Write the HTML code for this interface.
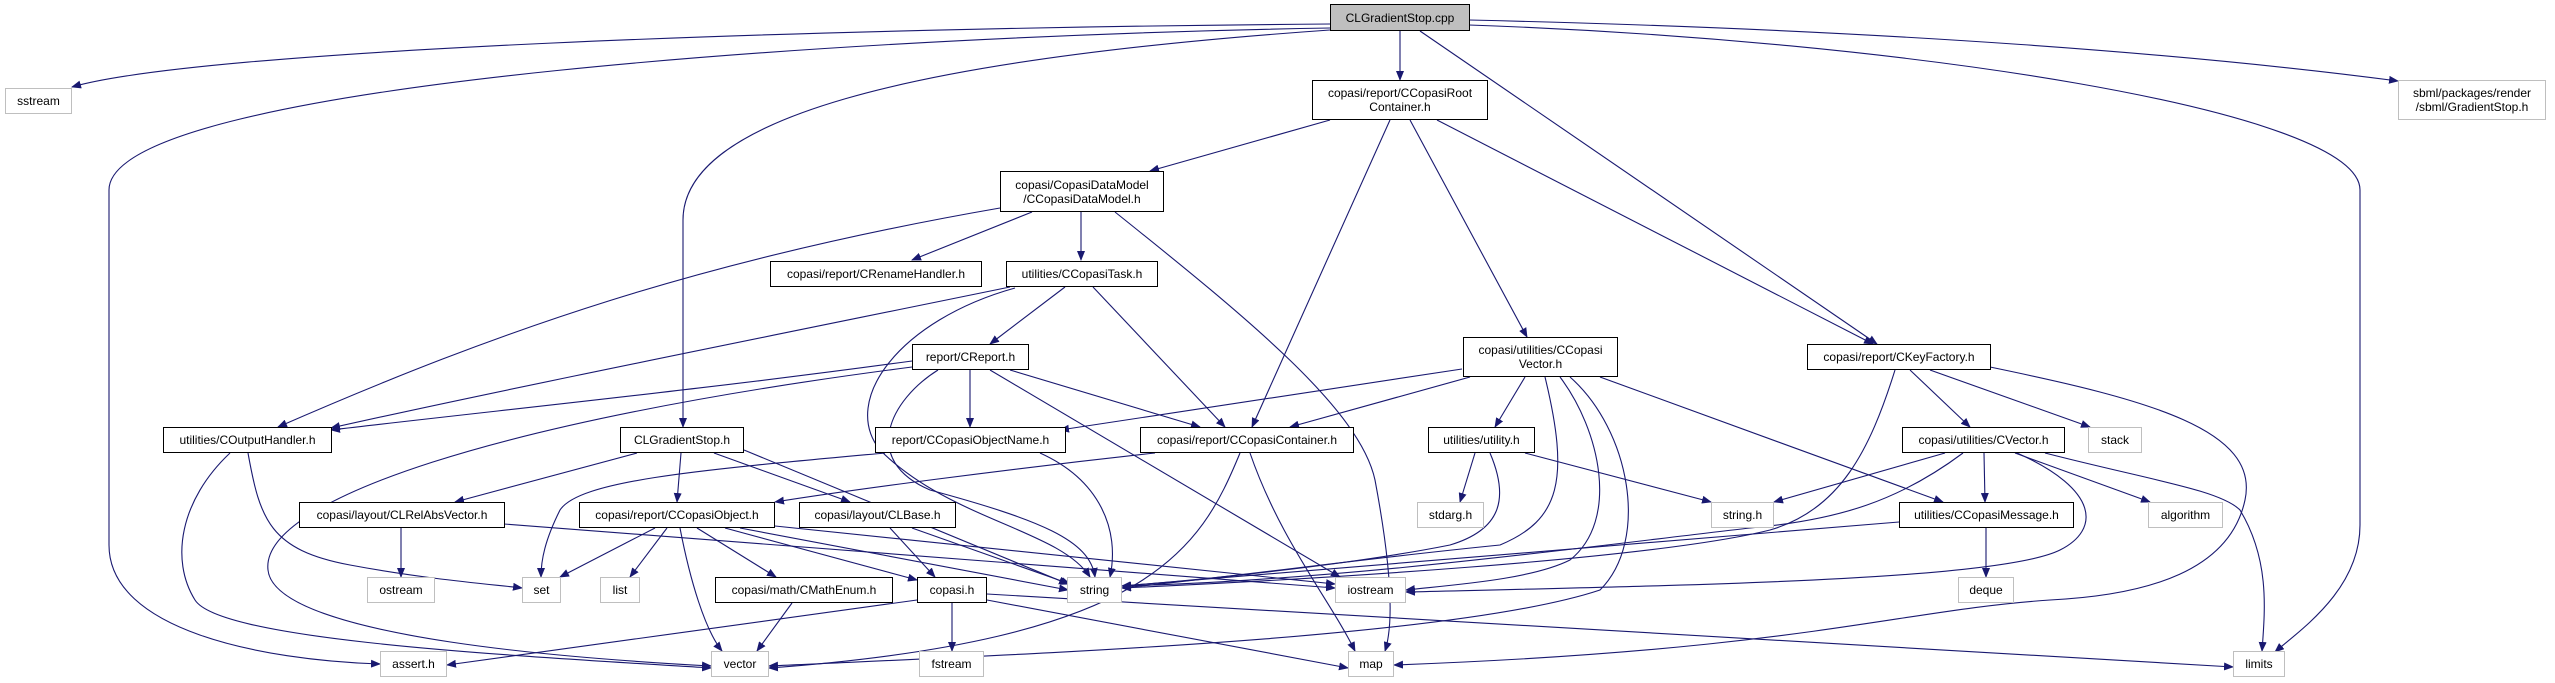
<!DOCTYPE html>
<html><head><meta charset="utf-8"><style>
html,body{margin:0;padding:0;background:#fff;}
#c{position:relative;width:2555px;height:683px;overflow:hidden;font-family:"Liberation Sans",Arial,sans-serif;}
.b{position:absolute;box-sizing:border-box;border:1.3px solid #000;background:#fff;font-size:12px;color:#000;display:flex;align-items:center;justify-content:center;text-align:center;line-height:14px;white-space:nowrap;}
.g{border-color:#bfbfbf;}
svg{position:absolute;left:0;top:0;}
</style></head><body><div id="c">
<svg width="2555" height="683" viewBox="0 0 2555 683">
<defs><marker id="a" markerWidth="10" markerHeight="8" refX="9" refY="4" orient="auto" markerUnits="userSpaceOnUse"><path d="M0,0 L10,4 L0,8 z" fill="#191970"/></marker></defs>
<g fill="none" stroke="#191970" stroke-width="1.1" marker-end="url(#a)">
<path d="M1330,24 C800,28 200,50 72,87"/>
<path d="M1330,28 C900,35 109,80 109,190 L109,545 C109,630 260,660 380,664"/>
<path d="M1330,30 C900,60 683,120 683,220 L683,427"/>
<path d="M1400,31 L1400,80"/>
<path d="M1420,31 L1877,344"/>
<path d="M1469,20 C1900,30 2200,55 2398,81"/>
<path d="M1469,25 C1900,40 2360,110 2360,190 L2360,525 C2360,590 2300,630 2275,652"/>
<path d="M1330,120 L1150,171"/>
<path d="M1390,120 L1252,427"/>
<path d="M1410,120 L1527,337"/>
<path d="M1437,120 L1873,344"/>
<path d="M1000,208 C700,260 500,330 278,427"/>
<path d="M1032,212 L912,260"/>
<path d="M1081,212 L1081,260"/>
<path d="M1115,212 C1250,320 1360,410 1375,480 C1390,560 1395,620 1385,651"/>
<path d="M1010,287 C800,330 500,390 331,428"/>
<path d="M1065,287 L990,344"/>
<path d="M1093,287 L1225,427"/>
<path d="M1015,288 C900,320 840,400 880,450 C950,520 1060,530 1090,577"/>
<path d="M912,361 C700,390 500,410 331,430"/>
<path d="M912,367 C500,420 260,500 268,570 C275,640 600,660 711,666"/>
<path d="M970,370 L970,427"/>
<path d="M1010,370 L1200,427"/>
<path d="M938,370 C890,400 860,460 930,490 C1040,520 1090,540 1095,577"/>
<path d="M990,370 L1340,577"/>
<path d="M1462,369 L1060,430"/>
<path d="M1470,377 L1290,427"/>
<path d="M1525,377 L1495,427"/>
<path d="M1545,377 C1570,480 1560,520 1500,545 C1350,560 1250,575 1122,588"/>
<path d="M1560,377 C1600,430 1620,520 1570,560 C1530,580 1450,585 1406,590"/>
<path d="M1570,377 C1630,430 1650,540 1600,590 C1450,640 1000,655 769,666"/>
<path d="M1600,377 L1943,502"/>
<path d="M1910,370 L1970,427"/>
<path d="M1930,370 L2090,427"/>
<path d="M1990,367 C2150,400 2260,430 2245,500 C2230,570 2150,595 2050,600 C1900,610 1800,650 1394,665"/>
<path d="M1895,370 C1870,450 1840,510 1770,530 C1650,560 1300,580 1122,588"/>
<path d="M1945,453 L1774,502"/>
<path d="M1984,453 L1985,502"/>
<path d="M2015,453 L2150,502"/>
<path d="M2045,453 C2150,480 2220,490 2240,510 C2270,560 2265,610 2262,651"/>
<path d="M1963,453 C1900,500 1840,520 1750,528 C1600,545 1350,580 1122,586"/>
<path d="M2017,453 C2100,490 2100,530 2060,550 C2000,580 1700,585 1406,592"/>
<path d="M1475,453 L1460,502"/>
<path d="M1490,453 C1510,500 1500,530 1450,545 C1350,565 1200,580 1122,586"/>
<path d="M1525,453 L1711,502"/>
<path d="M1155,453 C1000,470 850,490 775,502"/>
<path d="M1240,453 C1200,550 1150,640 769,668"/>
<path d="M1250,453 C1280,540 1330,600 1355,651"/>
<path d="M1040,453 C1100,480 1120,530 1110,577"/>
<path d="M885,453 C700,470 580,480 560,510 C545,540 541,560 541,577"/>
<path d="M248,453 C260,520 270,550 350,565 C430,580 500,585 522,588"/>
<path d="M230,453 C180,500 170,560 195,600 C220,640 500,655 711,668"/>
<path d="M637,453 L455,502"/>
<path d="M681,453 L677,502"/>
<path d="M714,453 L850,502"/>
<path d="M744,450 L1068,584"/>
<path d="M401,528 L401,577"/>
<path d="M504,524 L1335,588"/>
<path d="M655,528 L560,577"/>
<path d="M667,528 L630,577"/>
<path d="M697,528 L776,577"/>
<path d="M680,528 C690,580 705,630 722,651"/>
<path d="M725,528 L917,580"/>
<path d="M740,528 L1068,590"/>
<path d="M775,526 L1335,584"/>
<path d="M890,528 L935,577"/>
<path d="M912,528 L1070,584"/>
<path d="M792,603 L757,651"/>
<path d="M917,600 L447,665"/>
<path d="M952,603 L952,651"/>
<path d="M987,600 L1348,668"/>
<path d="M987,594 L2233,667"/>
<path d="M1899,522 L1122,586"/>
<path d="M1986,528 L1986,577"/>
</g>
</svg>
<div class="b" style="left:1330px;top:4px;width:140px;height:27px;background:#bfbfbf;">CLGradientStop.cpp</div>
<div class="b g" style="left:5px;top:88px;width:67px;height:26px;">sstream</div>
<div class="b" style="left:1312px;top:80px;width:176px;height:40px;">copasi/report/CCopasiRoot<br>Container.h</div>
<div class="b g" style="left:2398px;top:80px;width:148px;height:40px;">sbml/packages/render<br>/sbml/GradientStop.h</div>
<div class="b" style="left:1000px;top:171px;width:164px;height:41px;">copasi/CopasiDataModel<br>/CCopasiDataModel.h</div>
<div class="b" style="left:770px;top:261px;width:212px;height:26px;">copasi/report/CRenameHandler.h</div>
<div class="b" style="left:1006px;top:261px;width:152px;height:26px;">utilities/CCopasiTask.h</div>
<div class="b" style="left:912px;top:344px;width:117px;height:26px;">report/CReport.h</div>
<div class="b" style="left:1463px;top:337px;width:155px;height:40px;">copasi/utilities/CCopasi<br>Vector.h</div>
<div class="b" style="left:1807px;top:344px;width:184px;height:26px;">copasi/report/CKeyFactory.h</div>
<div class="b" style="left:163px;top:427px;width:169px;height:26px;">utilities/COutputHandler.h</div>
<div class="b" style="left:620px;top:427px;width:124px;height:26px;">CLGradientStop.h</div>
<div class="b" style="left:875px;top:427px;width:191px;height:26px;">report/CCopasiObjectName.h</div>
<div class="b" style="left:1140px;top:427px;width:214px;height:26px;">copasi/report/CCopasiContainer.h</div>
<div class="b" style="left:1428px;top:427px;width:107px;height:26px;">utilities/utility.h</div>
<div class="b" style="left:1902px;top:427px;width:163px;height:26px;">copasi/utilities/CVector.h</div>
<div class="b g" style="left:2088px;top:427px;width:54px;height:26px;">stack</div>
<div class="b" style="left:299px;top:502px;width:206px;height:26px;">copasi/layout/CLRelAbsVector.h</div>
<div class="b" style="left:579px;top:502px;width:196px;height:26px;">copasi/report/CCopasiObject.h</div>
<div class="b" style="left:799px;top:502px;width:157px;height:26px;">copasi/layout/CLBase.h</div>
<div class="b g" style="left:1417px;top:502px;width:67px;height:26px;">stdarg.h</div>
<div class="b g" style="left:1711px;top:502px;width:63px;height:26px;">string.h</div>
<div class="b" style="left:1899px;top:502px;width:175px;height:26px;">utilities/CCopasiMessage.h</div>
<div class="b g" style="left:2148px;top:502px;width:75px;height:26px;">algorithm</div>
<div class="b g" style="left:367px;top:577px;width:68px;height:26px;">ostream</div>
<div class="b g" style="left:522px;top:577px;width:39px;height:26px;">set</div>
<div class="b g" style="left:600px;top:577px;width:40px;height:26px;">list</div>
<div class="b" style="left:715px;top:577px;width:178px;height:26px;">copasi/math/CMathEnum.h</div>
<div class="b" style="left:917px;top:577px;width:70px;height:26px;">copasi.h</div>
<div class="b g" style="left:1067px;top:577px;width:55px;height:26px;">string</div>
<div class="b g" style="left:1335px;top:577px;width:71px;height:26px;">iostream</div>
<div class="b g" style="left:1958px;top:577px;width:56px;height:26px;">deque</div>
<div class="b g" style="left:380px;top:651px;width:67px;height:26px;">assert.h</div>
<div class="b g" style="left:711px;top:651px;width:58px;height:26px;">vector</div>
<div class="b g" style="left:919px;top:651px;width:65px;height:26px;">fstream</div>
<div class="b g" style="left:1348px;top:651px;width:46px;height:26px;">map</div>
<div class="b g" style="left:2233px;top:651px;width:52px;height:26px;">limits</div>
</div></body></html>
